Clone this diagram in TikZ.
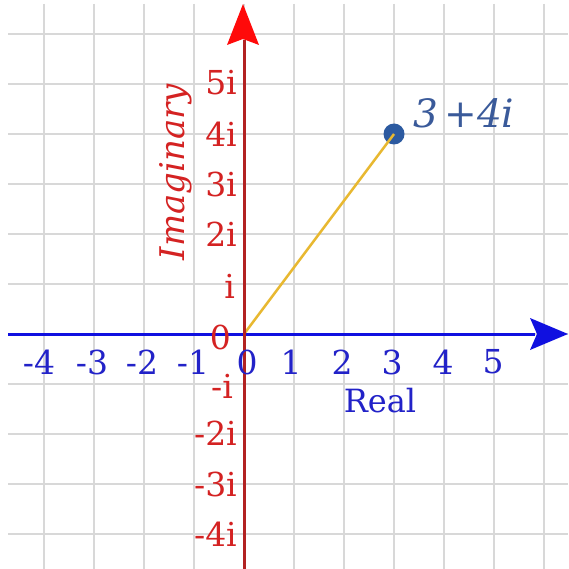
\documentclass[tikz,border=0pt]{standalone}
\usepackage{fontspec}
\setmainfont{DejaVu Serif}
\definecolor{gridgray}{HTML}{D8D8D8}
\definecolor{axisblue}{HTML}{1010E0}
\definecolor{lblblue}{HTML}{2222C8}
\definecolor{axisred}{HTML}{B22222}
\definecolor{arrred}{HTML}{FF0A0A}
\definecolor{lblred}{HTML}{D42222}
\definecolor{dotblue}{HTML}{2C5AA0}
\definecolor{ptblue}{HTML}{3A5A9A}
\definecolor{vecgold}{HTML}{E8B830}
\begin{document}
\begin{tikzpicture}[x=1pt,y=-1pt,
  gridline/.style={draw=gridgray,line width=2pt},
  xtick/.style={text=lblblue,font=\fontsize{33}{33}\selectfont,inner sep=0pt},
  ytick/.style={text=lblred,font=\fontsize{33}{33}\selectfont,inner sep=0pt,anchor=east},
]
\useasboundingbox (0,0) rectangle (568,569);
\fill[white] (0,0) rectangle (568,569);
% grid
\foreach \x in {44,94,...,544} \draw[gridline] (\x,4) -- (\x,569);
\foreach \y in {34,84,...,534} \draw[gridline] (8,\y) -- (568,\y);
% coordinates
\coordinate (O) at (244,334);
\coordinate (xl) at (8,334);
\coordinate (xr) at (535,334);
\coordinate (yb) at (244,569);
\coordinate (yt) at (244,40);
% vector
\node[circle,fill=dotblue,minimum size=21pt,inner sep=0pt] (P) at (394,134) {};
\draw[vecgold,line width=2.5pt] (O) -- (P.center);
% axes
\draw[axisblue,line width=3pt] (xl) -- (xr);
\fill[axisblue] (568,334) -- (530,318) -- (537,334) -- (530,350) -- cycle;
\draw[axisred,line width=3pt] (yb) -- (yt);
\fill[arrred] (243,4) -- (227,45) -- (243,39) -- (259,45) -- cycle;
% x tick labels
\foreach \v/\x in {-4/39,-3/92,-2/142,-1/193,0/247,1/291,2/342,3/392,4/443,5/493}
  \node[xtick] (xt\x) at (\x,362) {\v};
\node[xtick,font=\fontsize{32}{32}\selectfont] (real) at (380,401) {Real};
% y tick labels
\node[ytick] (y5) at (237,83) {5i};
\node[ytick] (y4) at (237,134) {4i};
\node[ytick] (y3) at (237,184) {3i};
\node[ytick] (y2) at (237,234) {2i};
\node[ytick] (y1) at (235,286) {i};
\node[ytick] (y0) at (231,337) {0};
\node[ytick] (ym1) at (233,386) {-i};
\node[ytick] (ym2) at (237,433) {-2i};
\node[ytick] (ym3) at (237,484) {-3i};
\node[ytick] (ym4) at (237,534) {-4i};
\node[text=lblred,font=\fontsize{34}{34}\selectfont\itshape,rotate=90,inner sep=0pt] (imag) at (176,172) {Imaginary};
\node[text=ptblue,font=\fontsize{39}{39}\selectfont\itshape,inner sep=0pt,anchor=west] (plabel) at (413,113) {3\,+4i};
\end{tikzpicture}
\end{document}
